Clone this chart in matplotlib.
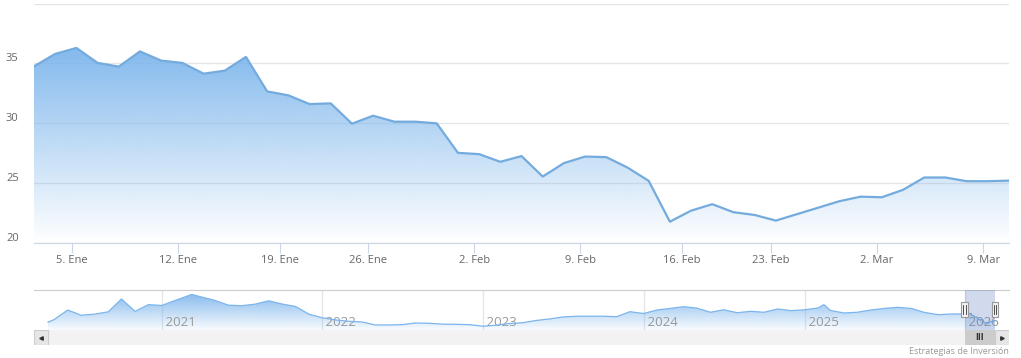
import numpy as np
import pandas as pd
import matplotlib
matplotlib.use("Agg")
import matplotlib.pyplot as plt
import matplotlib.dates as mdates
from matplotlib.patches import Rectangle
from matplotlib.transforms import ScaledTranslation, blended_transform_factory
from matplotlib.colors import to_rgb

plt.rcParams['font.family'] = ['Open Sans', 'DejaVu Sans']

# main series: trading days 31 Dec 2025 - 10 Mar 2026
holidays = ['2026-01-01', '2026-01-19', '2026-02-16']
prices = [34.75, 35.79, 36.29, 35.04, 34.73, 36.00, 35.23, 35.04, 34.14, 34.39,
          35.54, 32.66, 32.33, 31.60, 31.66, 29.96, 30.63, 30.13, 30.13, 29.99,
          27.53, 27.42, 26.78, 27.26, 25.55, 26.67, 27.22, 27.17, 26.30, 25.19,
          21.78, 22.70, 23.24, 22.57, 22.34, 21.87, 22.41, 22.95, 23.49, 23.87,
          23.82, 24.44, 25.47, 25.47, 25.16, 25.16, 25.21]
months_es = {1: 'Ene', 2: 'Feb', 3: 'Mar'}

# navigator history (approx. monthly readings)
hist_dates = ['2020-04-17', '2020-05-01', '2020-06-01', '2020-07-01', '2020-08-01',
              '2020-09-01', '2020-10-01', '2020-11-01', '2020-12-01', '2021-01-01',
              '2021-02-01', '2021-03-10', '2021-04-01', '2021-05-01', '2021-06-01',
              '2021-07-01', '2021-08-01', '2021-09-01', '2021-10-01', '2021-11-01',
              '2021-12-01', '2022-01-01', '2022-02-01', '2022-03-01', '2022-04-01',
              '2022-05-01', '2022-06-01', '2022-07-01', '2022-08-01', '2022-09-01',
              '2022-10-01', '2022-11-01', '2022-12-01', '2023-01-01', '2023-02-01',
              '2023-03-01', '2023-04-01', '2023-05-01', '2023-06-01', '2023-07-01',
              '2023-08-01', '2023-09-01', '2023-10-01', '2023-11-01', '2023-12-01',
              '2024-01-01', '2024-02-01', '2024-03-01', '2024-04-01', '2024-05-01',
              '2024-06-01', '2024-07-01', '2024-08-01', '2024-09-01', '2024-10-01',
              '2024-11-01', '2024-12-01', '2025-01-01', '2025-02-01', '2025-02-14',
              '2025-03-01', '2025-04-01', '2025-05-01', '2025-06-01', '2025-07-01',
              '2025-08-01', '2025-09-01', '2025-10-01', '2025-11-01', '2025-12-01']
hist_values = [23.3, 27.0, 40.1, 32.9, 34.4,
               37.6, 55.2, 38.1, 47.4, 46.3,
               53.4, 61.4, 57.9, 53.3, 46.7,
               46.0, 48.1, 52.7, 48.3, 44.9,
               34.4, 29.4, 26.4, 24.6, 23.7,
               19.6, 19.6, 20.0, 22.3, 21.9,
               20.7, 20.5, 20.0, 17.9, 19.3,
               21.6, 22.6, 25.7, 27.8, 30.5,
               31.6, 31.6, 31.6, 30.9, 37.8,
               35.3, 40.1, 42.2, 44.6, 42.7,
               37.0, 40.4, 36.4, 38.3, 37.0,
               41.5, 39.2, 40.4, 42.9, 47.4,
               39.4, 36.0, 37.0, 40.1, 42.2,
               43.8, 42.2, 36.7, 33.7, 34.6]

days = pd.bdate_range('2025-12-31', '2026-03-10')
days = days[~days.isin(pd.to_datetime(holidays))]
idx = np.arange(len(days))
close_ts = (days + pd.Timedelta(hours=16)).values.astype('int64')
mondays = pd.date_range('2026-01-05', '2026-03-09', freq='7D')
tick_pos = np.interp(mondays.values.astype('int64'), close_ts, idx)
tick_lab = [f"{d.day}. {months_es[d.month]}" for d in mondays]

W, H = 1021, 358
fig = plt.figure(figsize=(W / 100, H / 100), dpi=100)
fig.patch.set_facecolor('white')

BLUE = '#7cb5ec'


def gradient_fill(ax, x, y, base, top_alpha, bottom_alpha):
    poly = ax.fill_between(x, y, base, facecolor='none', edgecolor='none')
    rgb = to_rgb(BLUE)
    n = 256
    arr = np.zeros((n, 1, 4))
    arr[:, 0, :3] = rgb
    arr[:, 0, 3] = np.linspace(top_alpha, bottom_alpha, n)
    im = ax.imshow(arr, extent=[x[0], x[-1], base, max(y)], aspect='auto',
                   origin='upper', zorder=1, interpolation='bilinear')
    im.set_clip_path(poly.get_paths()[0], transform=ax.transData)


# ---- main chart
ax = fig.add_axes([34 / W, 115 / H, 975 / W, 239.5 / H])
gradient_fill(ax, idx, prices, 20, 0.95, 0.0)
ax.plot(idx, prices, color='#74abde', lw=1.6, zorder=3)
ax.set_xlim(0, len(idx) - 1)
ax.set_ylim(20, 40)
ax.set_yticks([20, 25, 30, 35, 40])
ax.set_yticklabels(['20', '25', '30', '35', ''])
ax.grid(axis='y', color='#e6e6e6', lw=1)
ax.set_axisbelow(True)
for s in ['top', 'right', 'left']:
    ax.spines[s].set_visible(False)
ax.spines['bottom'].set_color('#ccd6eb')
ax.set_xticks(tick_pos)
ax.set_xticklabels(tick_lab)
ax.tick_params(axis='x', length=7.5, color='#ccd6eb', labelsize=8, labelcolor='#666666', pad=1)
ax.tick_params(axis='y', length=0, labelsize=8, labelcolor='#666666', pad=11)
for lab in ax.get_yticklabels():
    lab.set_transform(lab.get_transform() + ScaledTranslation(0, 6 / 100, fig.dpi_scale_trans))

# ---- navigator
nav_d = list(pd.to_datetime(hist_dates)) + list(days)
nav_v = hist_values + prices
nx = mdates.date2num(nav_d)
pad = (nx[-1] - nx[0]) * 14 / 947
nav = fig.add_axes([34 / W, 28 / H, 975 / W, 40 / H])
nav.set_xlim(nx[0] - pad, nx[-1] + pad)
nav.set_ylim(12.7, 67.5)
gradient_fill(nav, nx, nav_v, 12.7, 0.9, 0.05)
nav.plot(nx, nav_v, color='#7cb5ec', lw=0.9, zorder=3)
for s in ['bottom', 'right', 'left']:
    nav.spines[s].set_visible(False)
nav.spines['top'].set_color('#cccccc')
nav.set_yticks([])
years = pd.date_range('2021-01-01', '2026-01-01', freq='YS')
nav.set_xticks(mdates.date2num(years))
nav.set_xticklabels([])
nav.tick_params(axis='x', length=0)
nav.grid(axis='x', color='#e6e6e6', lw=1)
nav.set_axisbelow(True)
tr = blended_transform_factory(nav.transData, nav.transAxes)
for y in years:
    nav.text(mdates.date2num(y), 0.2, f" {y.year}", transform=tr, fontsize=9.5,
             color='#999999', ha='left', va='center', zorder=2)
s0, s1 = mdates.date2num(days[0]), mdates.date2num(days[-1])
nav.axvspan(s0, s1, color=(102 / 255, 133 / 255, 194 / 255, 0.3), lw=0, zorder=4)
hw = (nx[-1] - nx[0]) * 7 / 947
for sx in (s0, s1):
    nav.add_patch(Rectangle((sx - hw / 2, 0.32), hw, 0.38, transform=tr,
                            facecolor='#f2f2f2', edgecolor='#999999', lw=0.8, zorder=6))
    for dx in (-0.18, 0.18):
        nav.plot([sx + dx * hw, sx + dx * hw], [0.4, 0.62], transform=tr,
                 color='#333333', lw=0.6, zorder=7)

# ---- scrollbar
sb = fig.add_axes([34 / W, 13 / H, 975 / W, 15 / H], sharex=nav)
sb.set_facecolor('#f2f2f2')
for s in sb.spines.values():
    s.set_visible(False)
sb.set_ylim(0, 1)
sb.tick_params(left=False, bottom=False, labelleft=False, labelbottom=False)
sb.axvspan(s0, s1, color='#cccccc', lw=0)
sb.text((s0 + s1) / 2, 0.5, 'III', fontsize=5.5, color='#333333', ha='center',
        va='center', family='DejaVu Sans', fontweight='bold')
bw = 14 / 975
for bx, mk in ((0, '<'), (1 - bw, '>')):
    sb.add_patch(Rectangle((bx, 0), bw, 1, transform=sb.transAxes,
                           facecolor='#e6e6e6', edgecolor='#cccccc', lw=0.8))
    sb.plot(bx + bw / 2, 0.5, marker=mk, ms=2.5, color='#333333', transform=sb.transAxes)

fig.text(1009 / W, 1 - 351 / H, 'Estrategias de Inversión', fontsize=6.5,
         color='#999999', ha='right', va='center')

fig.savefig('out.png', dpi=100)
